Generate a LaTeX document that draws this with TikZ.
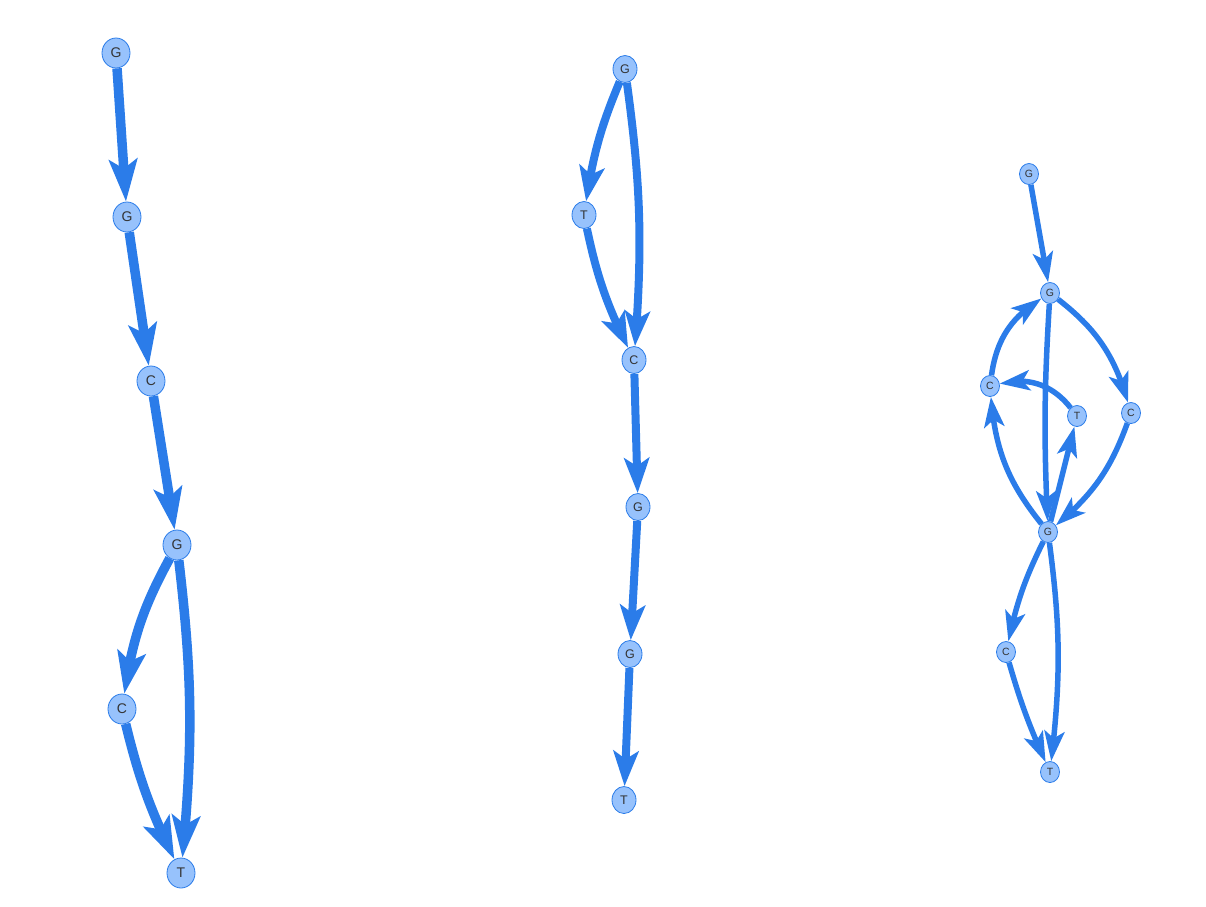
\documentclass[tikz,border=0pt]{standalone}
\usepackage{fontspec}
\setmainfont{Liberation Sans}
\usetikzlibrary{arrows.meta,bending,shapes.geometric,backgrounds}
\definecolor{visedge}{HTML}{2B7CE9}
\definecolor{visfill}{HTML}{97C2FC}
\definecolor{vistext}{HTML}{343434}

\begin{document}
\begin{tikzpicture}[x=1pt,y=1pt,yscale=-1,xscale=1,
  base/.style = {draw=visedge, fill=visfill, ellipse, inner sep=0pt,
  text=vistext, line width=0.8pt},
  big/.style = {base, minimum width=28pt, minimum height=30pt,
  font=\fontsize{14}{14}\selectfont},
  mid/.style = {base, minimum width=24pt, minimum height=27pt,
  font=\fontsize{12.5}{12.5}\selectfont},
  small/.style = {base, minimum width=19pt, minimum height=21pt,
  font=\fontsize{10.5}{10.5}\selectfont},
  wide/.style = {draw=visedge, line width=9.5pt,
  -{Stealth[length=42pt,width=28pt,inset=9pt]}},
  medium/.style = {draw=visedge, line width=8pt,
  -{Stealth[length=35pt,width=25pt,inset=8pt]}},
  thin/.style = {draw=visedge, line width=5.5pt,
  -{Stealth[length=30pt,width=20pt,inset=7pt]}}]
  \useasboundingbox (0,0) rectangle (1206,906);

  % first graph
  \node[big] (aG1) at (116,53) {G};
  \node[big] (aG2) at (127,217) {G};
  \node[big] (aC3) at (151,381) {C};
  \node[big] (aG4) at (177,545) {G};
  \node[big] (aC5) at (122,709) {C};
  \node[big] (aT6) at (181,873) {T};

  % second graph
  \node[mid] (bG1) at (625,69) {G};
  \node[mid] (bT2) at (584,215) {T};
  \node[mid] (bC3) at (634,360) {C};
  \node[mid] (bG4) at (638,507) {G};
  \node[mid] (bG5) at (630,654) {G};
  \node[mid] (bT6) at (624,800) {T};

  % third graph
  \node[small] (cG1) at (1029,174) {G};
  \node[small] (cG2) at (1050,293) {G};
  \node[small] (cC3) at (990,386) {C};
  \node[small] (cT4) at (1077,416) {T};
  \node[small] (cC5) at (1131,413) {C};
  \node[small] (cG6) at (1048,532) {G};
  \node[small] (cC7) at (1006,652) {C};
  \node[small] (cT8) at (1050,772) {T};

  \begin{pgfonlayer}{background}
  \draw[wide] (aG1) -- (aG2);
  \draw[wide] (aG2) -- (aC3);
  \draw[wide] (aC3) -- (aG4);
  \draw[wide] (aG4) to[bend left=10] (aC5);
  \draw[wide] (aC5) to[bend left=6] (aT6);
  \draw[wide] (aG4) to[bend right=6] (aT6);

  \draw[medium] (bG1) to[bend left=7] (bT2);
  \draw[medium] (bT2) to[bend left=7] (bC3);
  \draw[medium] (bG1) to[bend right=6] (bC3);
  \draw[medium] (bC3) -- (bG4);
  \draw[medium] (bG4) -- (bG5);
  \draw[medium] (bG5) -- (bT6);

  \draw[thin] (cG1) -- (cG2);
  \draw[thin] (cG2) to[bend right=18] (cC5);
  \draw[thin] (cC5) to[bend right=15] (cG6);
  \draw[thin] (cG2) to[bend left=3] (cG6);
  \draw[thin] (cG6) to[bend right=17] (cC3);
  \draw[thin] (cC3) to[bend right=25] (cG2);
  \draw[thin] (cT4) to[bend left=33] (cC3);
  \draw[thin] (cG6) -- (cT4);
  \draw[thin] (cG6) to[bend left=7] (cC7);
  \draw[thin] (cC7) to[bend left=4] (cT8);
  \draw[thin] (cG6) to[bend right=7] (cT8);
  \end{pgfonlayer}
\end{tikzpicture}
\end{document}
